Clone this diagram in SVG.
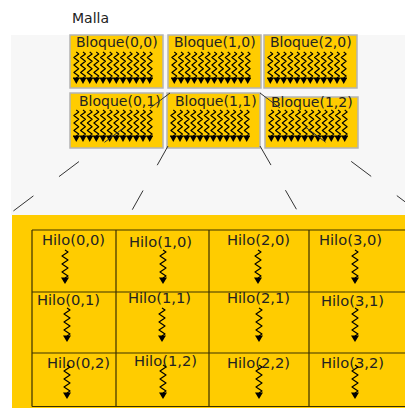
<svg xmlns="http://www.w3.org/2000/svg" xmlns:xlink="http://www.w3.org/1999/xlink" width="405" height="408" viewBox="0 0 405 408">
  <style>
    text { font-family: "DejaVu Sans", "Liberation Sans", sans-serif; fill: #222; }
    .lbl { font-size: 14px; }
    .hilo { font-size: 14.7px; }
    .blk { fill: #FFCC00; stroke: #b4b4b4; stroke-width: 1.5; }
    .zig { fill: none; stroke: #000; stroke-width: 1.2; stroke-linejoin: round; }
    .tip { fill: #000; }
    .grid { fill: none; stroke: #3a3000; stroke-width: 1.2; }
    .dash { stroke: #333; stroke-width: 1; fill: none; }
  </style>
  <defs>
    <!-- one warp of a block: zigzag plus arrowhead -->
    <g id="col">
      <path class="zig" d="M0,0 l2.4,1.9 l-4.8,3.7 l4.8,3.7 l-4.8,3.7 l4.8,3.7 l-4.8,3.7 l4.8,3.7 l-2.4,1.9"/>
      <polygon class="tip" points="-3.3,26 3.3,26 0,32"/>
    </g>
    <!-- twelve threads drawn inside each block -->
    <g id="bsq">
      <use xlink:href="#col" x="3.3"/>
      <use xlink:href="#col" x="10"/>
      <use xlink:href="#col" x="16.7"/>
      <use xlink:href="#col" x="23.3"/>
      <use xlink:href="#col" x="30"/>
      <use xlink:href="#col" x="36.7"/>
      <use xlink:href="#col" x="43.3"/>
      <use xlink:href="#col" x="50"/>
      <use xlink:href="#col" x="56.7"/>
      <use xlink:href="#col" x="63.3"/>
      <use xlink:href="#col" x="70"/>
      <use xlink:href="#col" x="76.7"/>
      <line x1="0" y1="26" x2="80" y2="26" stroke="#000" stroke-width="1.2"/>
    </g>
    <!-- single thread in the enlarged block -->
    <g id="thr">
      <path class="zig" d="M0,0 l3,2 l-6,4 l6,4 l-6,4 l6,4 l-6,4 l6,4 l-3,2"/>
      <polygon class="tip" points="-4,27.5 4,27.5 0,34"/>
    </g>
  </defs>

  <rect width="405" height="408" fill="#fff"/>
  <text class="lbl" x="72" y="23">Malla</text>

  <!-- grid area -->
  <rect x="11" y="35" width="394" height="180" fill="#f7f7f7"/>

  <g id="bloque-0-0">
    <rect class="blk" x="70" y="35" width="93" height="53"/>
    <text class="lbl" x="76" y="47">Bloque(0,0)</text>
    <use xlink:href="#bsq" x="73" y="52"/>
  </g>
  <g id="bloque-1-0">
    <rect class="blk" x="168" y="35" width="93" height="53"/>
    <text class="lbl" x="174" y="47">Bloque(1,0)</text>
    <use xlink:href="#bsq" x="171" y="52"/>
  </g>
  <g id="bloque-2-0">
    <rect class="blk" x="264" y="35" width="93" height="53"/>
    <text class="lbl" x="270" y="47">Bloque(2,0)</text>
    <use xlink:href="#bsq" x="267" y="52"/>
  </g>
  <g id="bloque-0-1">
    <rect class="blk" x="70" y="93" width="93" height="55"/>
    <text class="lbl" x="79" y="106">Bloque(0,1)</text>
    <use xlink:href="#bsq" x="73" y="110"/>
  </g>
  <g id="bloque-1-1">
    <rect class="blk" x="167" y="93" width="93" height="55"/>
    <text class="lbl" x="175" y="106">Bloque(1,1)</text>
    <use xlink:href="#bsq" x="170" y="110"/>
  </g>
  <g id="bloque-1-2">
    <rect class="blk" x="265" y="97" width="93" height="51"/>
    <text class="lbl" x="271" y="107">Bloque(1,2)</text>
    <use xlink:href="#bsq" x="268" y="110"/>
  </g>

  <!-- enlarged block -->
  <g id="bloque-detalle">
    <rect x="12" y="215" width="393" height="193" fill="#FFCC00"/>
    <path class="grid" d="M32,230 H406 M32,292 H406 M32,353 H406 M32,406.5 H406 M32,230 V406.5 M116,230 V406.5 M209,230 V406.5 M309,230 V406.5"/>
  </g>

  <g id="hilos">
    <g id="hilo-0-0"><text class="hilo" x="42" y="245">Hilo(0,0)</text><use xlink:href="#thr" x="65" y="250"/></g>
    <g id="hilo-1-0"><text class="hilo" x="129" y="247">Hilo(1,0)</text><use xlink:href="#thr" x="163" y="250"/></g>
    <g id="hilo-2-0"><text class="hilo" x="227" y="245">Hilo(2,0)</text><use xlink:href="#thr" x="258" y="250"/></g>
    <g id="hilo-3-0"><text class="hilo" x="319" y="245">Hilo(3,0)</text><use xlink:href="#thr" x="355" y="250"/></g>
    <g id="hilo-0-1"><text class="hilo" x="37" y="305">Hilo(0,1)</text><use xlink:href="#thr" x="67" y="308"/></g>
    <g id="hilo-1-1"><text class="hilo" x="128" y="303">Hilo(1,1)</text><use xlink:href="#thr" x="162" y="308"/></g>
    <g id="hilo-2-1"><text class="hilo" x="227" y="303">Hilo(2,1)</text><use xlink:href="#thr" x="259" y="308"/></g>
    <g id="hilo-3-1"><text class="hilo" x="321" y="306">Hilo(3,1)</text><use xlink:href="#thr" x="355" y="308"/></g>
    <g id="hilo-0-2"><text class="hilo" x="47" y="368">Hilo(0,2)</text><use xlink:href="#thr" x="67" y="365"/></g>
    <g id="hilo-1-2"><text class="hilo" x="134" y="366">Hilo(1,2)</text><use xlink:href="#thr" x="163" y="365"/></g>
    <g id="hilo-2-2"><text class="hilo" x="227" y="368">Hilo(2,2)</text><use xlink:href="#thr" x="259" y="365"/></g>
    <g id="hilo-3-2"><text class="hilo" x="321" y="368">Hilo(3,2)</text><use xlink:href="#thr" x="355" y="365"/></g>
  </g>

  <!-- projection lines from Bloque(1,1) to the enlarged view -->
  <g id="conectores">
    <line class="dash" x1="170" y1="93" x2="12" y2="212" stroke-dasharray="25 32"/>
    <line class="dash" x1="260" y1="93" x2="420" y2="213" stroke-dasharray="25 32"/>
    <line class="dash" x1="168" y1="146" x2="131" y2="212" stroke-dasharray="22 29"/>
    <line class="dash" x1="260" y1="146" x2="298" y2="212" stroke-dasharray="22 29"/>
  </g>
</svg>
